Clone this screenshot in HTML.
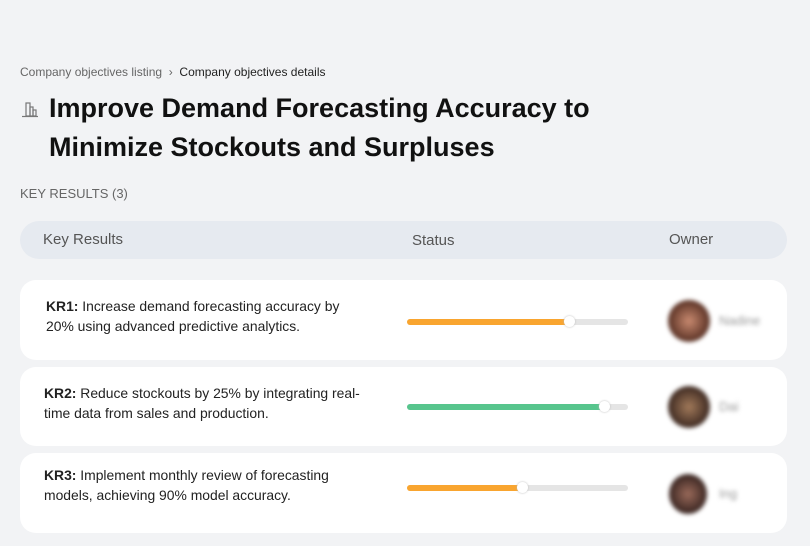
<!DOCTYPE html>
<html><head><style>
body{margin:0;width:810px;height:546px;background:#f2f3f5;font-family:"Liberation Sans",sans-serif;position:relative;overflow:hidden}
.a{position:absolute}
.crumb{left:20px;top:65px;font-size:12px;color:#666}
.crumb b{font-weight:normal;color:#222}
h1{position:absolute;left:49px;top:89px;margin:0;font-size:27px;line-height:39px;font-weight:bold;color:#111;white-space:nowrap}
.kr{left:20px;top:186px;font-size:13px;color:#666}
.head{left:20px;top:221px;width:767px;height:38px;background:#e6eaf0;border-radius:19px;color:#555;font-size:15px}
.card{left:20px;width:767px;height:80px;background:#fff;border-radius:16px}
.txt{position:absolute;left:26px;top:16px;font-size:13.9px;line-height:20px;color:#222;white-space:nowrap}
.track{position:absolute;left:387px;width:221px;height:6px;background:#e5e5e5;border-radius:3px;top:39px}
.fill{position:absolute;left:0;top:0;height:6px;border-radius:3px}
.knob{position:absolute;top:-3px;width:11px;height:11px;border-radius:50%;background:#fff;box-shadow:0 0 2px #bbb;margin-left:-6px}
.av{position:absolute;left:648px;top:20px;width:42px;height:42px;border-radius:50%;filter:blur(2px)}
.nm{position:absolute;left:699px;top:33px;font-size:13px;color:#999;filter:blur(2px)}
</style></head><body>
<div class="a crumb">Company objectives listing &nbsp;›&nbsp; <b>Company objectives details</b></div>
<svg class="a" style="left:21px;top:100px" width="18" height="18" viewBox="0 0 18 18"><g fill="none" stroke="#777" stroke-width="1.2"><rect x="5" y="3" width="4" height="13"/><rect x="9" y="7" width="3" height="9"/><rect x="12" y="10" width="3" height="6"/><line x1="1" y1="16.5" x2="17" y2="16.5"/></g></svg>
<h1>Improve Demand Forecasting Accuracy to<br>Minimize Stockouts and Surpluses</h1>
<div class="a kr">KEY RESULTS (3)</div>
<div class="a head"><span class="a" style="left:23px;top:10px">Key Results</span><span class="a" style="left:392px;top:11px">Status</span><span class="a" style="left:649px;top:10px">Owner</span></div>

<div class="a card" style="top:280px"><div class="txt"><b>KR1:</b> Increase demand forecasting accuracy by<br>20% using advanced predictive analytics.</div>
<div class="track"><div class="fill" style="width:163px;background:#f9a52f"></div><div class="knob" style="left:163px"></div></div>
<div class="av" style="background:radial-gradient(circle at 50% 50%,#c98a70,#5a3225 70%)"></div><div class="nm">Nadine</div></div>

<div class="a card" style="top:367px;height:79px"><div class="txt" style="left:24px"><b>KR2:</b> Reduce stockouts by 25% by integrating real-<br>time data from sales and production.</div>
<div class="track" style="top:37px"><div class="fill" style="width:198px;background:#57c58d"></div><div class="knob" style="left:198px"></div></div>
<div class="av" style="top:19px;background:radial-gradient(circle at 50% 50%,#a27a5a,#3e2a22 70%)"></div><div class="nm" style="top:32px">Dai</div></div>

<div class="a card" style="top:453px"><div class="txt" style="left:24px;top:12px"><b>KR3:</b> Implement monthly review of forecasting<br>models, achieving 90% model accuracy.</div>
<div class="track" style="top:32px"><div class="fill" style="width:116px;background:#f9a52f"></div><div class="knob" style="left:116px"></div></div>
<div class="av" style="left:649px;top:21px;width:38px;height:40px;background:radial-gradient(circle at 50% 50%,#9a6a5a,#3a2622 70%)"></div><div class="nm" style="top:33px">Ing</div></div>
</body></html>
